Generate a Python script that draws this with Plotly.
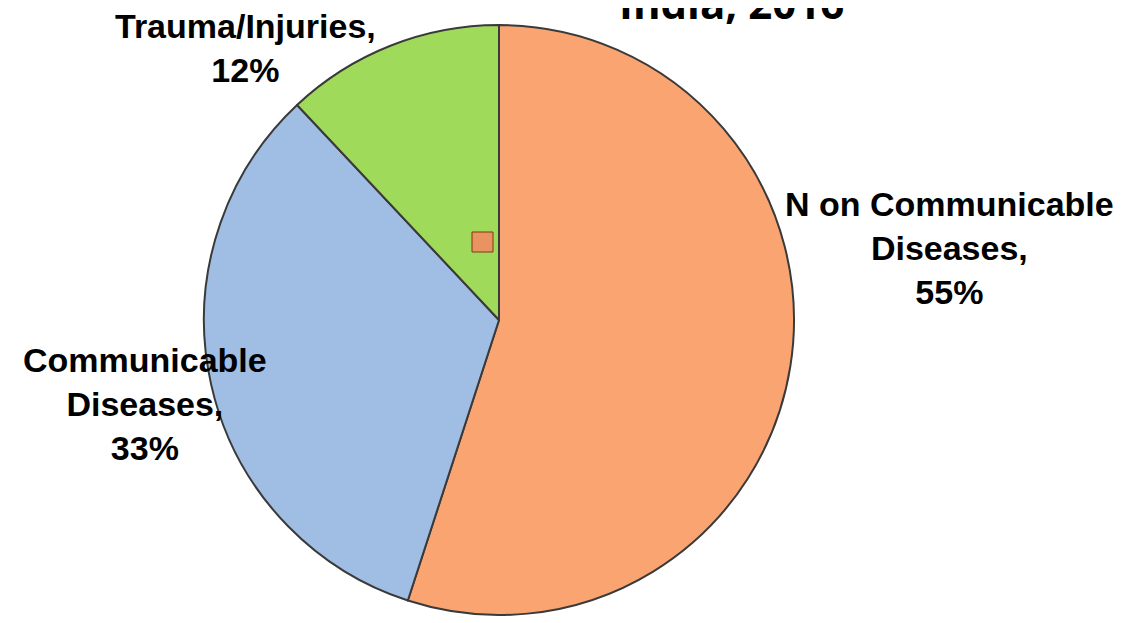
import plotly.graph_objects as go

# datos del gráfico
categorias = ["Non Communicable Diseases", "Communicable Diseases", "Trauma/Injuries"]
valores = [55, 33, 12]
etiquetas = ["N on Communicable<br>Diseases,<br>55%",
             "Communicable<br>Diseases,<br>33%",
             "Trauma/Injuries,<br>12%"]
colores = ["#FAA571", "#A0BDE3", "#A0DA5A"]
titulo = "India, 2016"

W, H = 1127, 623
OFF = 8  # margen del body de la página html
cx, cy, r = 499 - OFF, 320 - OFF, 295


def px(x):
    return (x - OFF) / W


def py(y):
    return 1 - (y - OFF) / H


fig = go.Figure()
fig.add_trace(go.Pie(
    labels=categorias,
    values=valores,
    sort=False,
    direction="clockwise",
    rotation=0,
    textinfo="none",
    hoverinfo="label+percent",
    marker=dict(colors=colores, line=dict(color="#3a3a3a", width=2)),
    domain=dict(x=[(cx - r) / W, (cx + r) / W], y=[1 - (cy + r) / H, 1 - (cy - r) / H]),
    showlegend=False,
))

# posiciones de las etiquetas (px)
pos_etiquetas = [(949, 248), (145, 404), (245, 48)]
for txt, (x, y) in zip(etiquetas, pos_etiquetas):
    fig.add_annotation(
        text="<b>" + txt + "</b>", x=px(x), y=py(y), xref="paper", yref="paper",
        xanchor="center", yanchor="middle", showarrow=False, align="center",
        font=dict(family="Liberation Sans, Arial", size=34, color="black"),
    )

# título cortado arriba
fig.add_annotation(
    text="<b>" + titulo + "</b>", x=px(731), y=py(33), xref="paper", yref="paper",
    xanchor="center", yanchor="bottom", showarrow=False,
    font=dict(family="Open Sans", size=42, color="black"),
)

# marcador suelto (resto de leyenda)
fig.add_shape(type="rect", xref="paper", yref="paper",
              x0=px(472), x1=px(493), y0=py(252), y1=py(232),
              fillcolor="#E89360", line=dict(color="#7a3a14", width=1))

fig.update_layout(
    width=W, height=H,
    margin=dict(l=0, r=0, t=0, b=0),
    paper_bgcolor="white",
    plot_bgcolor="white",
)

fig.write_html("out.html")
